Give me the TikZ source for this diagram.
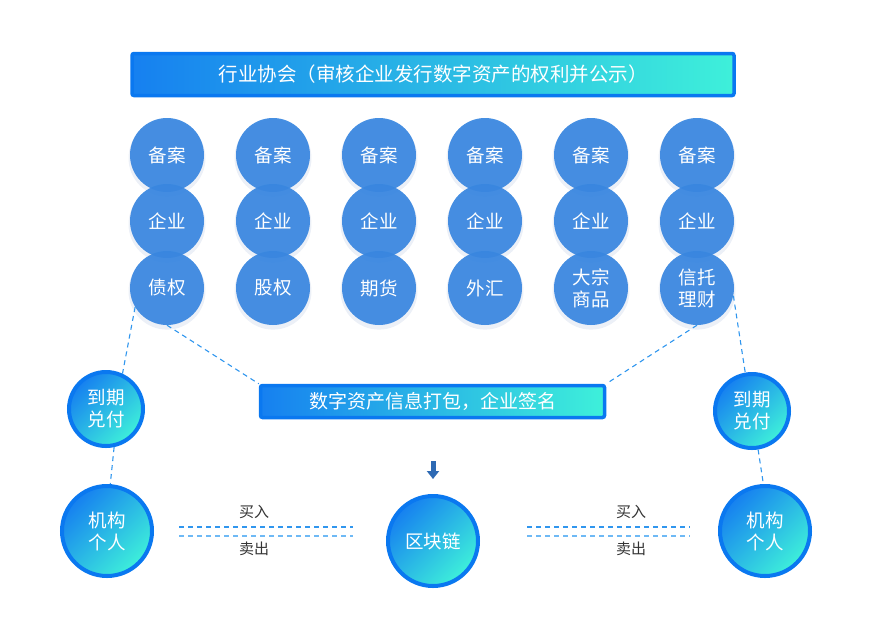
\documentclass[tikz,border=0pt]{standalone}
\usepackage{fontspec}
\setmainfont{Noto Sans CJK SC}
\usetikzlibrary{arrows.meta,shadows}
\definecolor{bdark}{RGB}{10,120,240}
\definecolor{bgrad}{RGB}{22,128,240}
\definecolor{cyanc}{RGB}{62,240,218}
\definecolor{cblue}{RGB}{56,134,224}
\definecolor{dashc}{RGB}{48,150,238}
\definecolor{dashl}{RGB}{110,185,245}
\definecolor{arrc}{RGB}{46,106,180}
\definecolor{txt}{RGB}{51,51,51}
\definecolor{shad}{RGB}{150,170,210}
\tikzset{
  banner/.style={draw=bdark, line width=3.5pt, rounded corners=2pt, left color=bgrad, right color=cyanc, text=white, inner sep=0pt},
  flatc/.style={circle, fill=cblue, fill opacity=0.93, text opacity=1, text=white, minimum size=74pt, inner sep=0pt, align=center, font=\fontsize{18.5}{22}\selectfont,
     drop shadow={shadow xshift=0pt, shadow yshift=-3pt, shadow scale=1.04, opacity=0.18, fill=shad}},
  ringc/.style={circle, draw=bdark, line width=4pt, left color=bgrad, right color=cyanc, shading angle=45, text=white, inner sep=0pt, align=center, font=\fontsize{18.5}{22}\selectfont},
  dl/.style={dashc, dashed, dash pattern=on 5pt off 4pt, line width=1.1pt},
  lab/.style={text=txt, font=\fontsize{15}{17}\selectfont}
}
\begin{document}
\begin{tikzpicture}[x=1pt,y=-1pt]
\useasboundingbox (0,0) rectangle (870,641);
\node[banner, minimum width=602pt, minimum height=42pt, font=\fontsize{19.5}{22}\selectfont] (top) at (433,74.5) {行业协会（审核企业发行数字资产的权利并公示）};
% columns
\foreach \i/\x/\t in {1/167/债权, 2/273/股权, 3/379/期货, 4/485/外汇, 5/591/{大宗\\商品}, 6/697/{信托\\理财}} {
  \node[flatc] (a\i) at (\x,155) {备案};
  \node[flatc] (b\i) at (\x,221) {企业};
  \node[flatc] (c\i) at (\x,288) {\t};
}
\node[banner, minimum width=344pt, minimum height=32pt, font=\fontsize{19}{22}\selectfont] (mid) at (432.5,401.5) {数字资产信息打包，企业签名};
\node[ringc, minimum size=74pt] (dl1) at (106,409) {到期\\兑付};
\node[ringc, minimum size=74pt] (dr1) at (752,411) {到期\\兑付};
\node[ringc, minimum size=90pt] (ml) at (107,531) {机构\\个人};
\node[ringc, minimum size=90pt] (mr) at (765,531) {机构\\个人};
\node[ringc, minimum size=90pt] (bc) at (433,541) {区块链};
% dashed connectors
\draw[dl] (c1.south) -- (mid.north west);
\draw[dl] (c6.south) -- (mid.north east);
\draw[dl] (c1.211) -- (dl1.65);
\draw[dl] (dl1.-78) -- (ml.86);
\draw[dl] (c6.-12) -- (dr1.100);
\draw[dl] (dr1.-81) -- (mr.92);
% arrow
\coordinate (ar1) at (433,461);
\coordinate (ar2) at (433,479);
\draw[arrc, line width=5pt, -{Triangle[length=8pt,width=12pt]}] (ar1) -- (ar2);
% buy / sell lines
\coordinate (l1a) at (179,527); \coordinate (l1b) at (353,527);
\coordinate (l2a) at (179,536); \coordinate (l2b) at (353,536);
\coordinate (r1a) at (527,527); \coordinate (r1b) at (690,527);
\coordinate (r2a) at (527,536); \coordinate (r2b) at (690,536);
\draw[dl] (l1a) -- (l1b);
\draw[dl, dashl] (l2a) -- (l2b);
\draw[dl] (r1a) -- (r1b);
\draw[dl, dashl] (r2a) -- (r2b);
\node[lab] (buyl) at (254,512) {买入};
\node[lab] (selll) at (254,549) {卖出};
\node[lab] (buyr) at (631,512) {买入};
\node[lab] (sellr) at (631,549) {卖出};
\end{tikzpicture}
\end{document}
